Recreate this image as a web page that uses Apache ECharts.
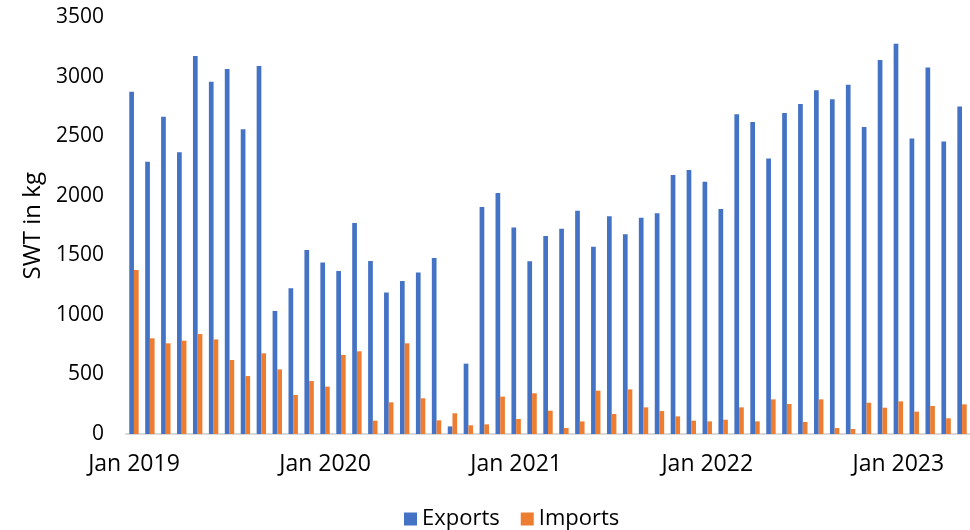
<!DOCTYPE html>
<html>
<head>
<meta charset="utf-8">
<script src="https://cdn.jsdelivr.net/npm/echarts@6/dist/echarts.min.js"></script>
<style>
  html, body { margin: 0; padding: 0; background: #fff; }
  #chart { width: 970px; height: 530px; }
</style>
</head>
<body>
<div id="chart"></div>
<script>
// monthly data, Jan 2019 .. May 2023
const monthNames = ['Jan', 'Feb', 'Mar', 'Apr', 'May', 'Jun', 'Jul', 'Aug', 'Sep', 'Oct', 'Nov', 'Dec'];
const years = [2019, 2020, 2021, 2022, 2023];

const exportsKg = [
  2877, 2288, 2667, 2367, 3176, 2961, 3067, 2560, 3092, 1034, 1224, 1546,
  1442, 1370, 1773, 1454, 1190, 1286, 1358, 1479, 64, 591, 1907, 2025,
  1736, 1451, 1664, 1725, 1877, 1574, 1829, 1678, 1818, 1854, 2176, 2218,
  2120, 1890, 2686, 2622, 2316, 2697, 2773, 2888, 2812, 2935, 2579, 3142,
  3280, 2484, 3080, 2459, 2753
];
const importsKg = [
  1378, 804, 762, 784, 840, 795, 622, 487, 678, 543, 328, 445,
  398, 664, 695, 112, 266, 762, 300, 115, 174, 73, 81, 314,
  126, 342, 196, 50, 106, 364, 168, 375, 224, 193, 148, 112,
  106, 120, 224, 106, 291, 252, 101, 291, 50, 42, 263, 221,
  274, 188, 235, 132, 249
];

const categories = [];
for (const y of years) {
  for (const m of monthNames) {
    if (categories.length < exportsKg.length) categories.push(m + ' ' + y);
  }
}

const font = '"Open Sans", "Noto Sans", sans-serif';
const chart = echarts.init(document.getElementById('chart'), null, { renderer: 'canvas' });

chart.setOption({
  animation: false,
  textStyle: { fontFamily: font },
  grid: { left: 126, top: 17.5, width: 846, bottom: 96, containLabel: false },
  legend: {
    top: 503,
    left: 399,
    itemWidth: 13,
    itemHeight: 13,
    itemGap: 21,
    icon: 'rect',
    textStyle: { fontSize: 22, color: '#000', fontFamily: font },
    data: ['Exports', 'Imports']
  },
  xAxis: {
    type: 'category',
    data: categories,
    axisLine: { lineStyle: { color: '#d9d9d9', width: 2 } },
    axisTick: { show: false },
    axisLabel: {
      interval: 11,
      margin: 19,
      fontSize: 23,
      color: '#000',
      fontFamily: font
    }
  },
  yAxis: {
    type: 'value',
    min: 0,
    max: 3500,
    interval: 500,
    name: 'SWT in kg',
    nameLocation: 'middle',
    nameGap: 80,
    nameTextStyle: { fontSize: 24, color: '#000', fontFamily: font },
    axisLine: { show: false },
    axisTick: { show: false },
    splitLine: { show: false },
    axisLabel: {
      fontSize: 21,
      color: '#000',
      margin: 22,
      fontFamily: font,
      formatter: (v) => String(v)
    }
  },
  series: [
    {
      name: 'Exports',
      type: 'bar',
      data: exportsKg,
      barWidth: 4.7,
      barGap: '0%',
      itemStyle: { color: '#4472C4' }
    },
    {
      name: 'Imports',
      type: 'bar',
      data: importsKg,
      barWidth: 4.7,
      itemStyle: { color: '#ED7D31' }
    }
  ]
});
</script>
</body>
</html>
